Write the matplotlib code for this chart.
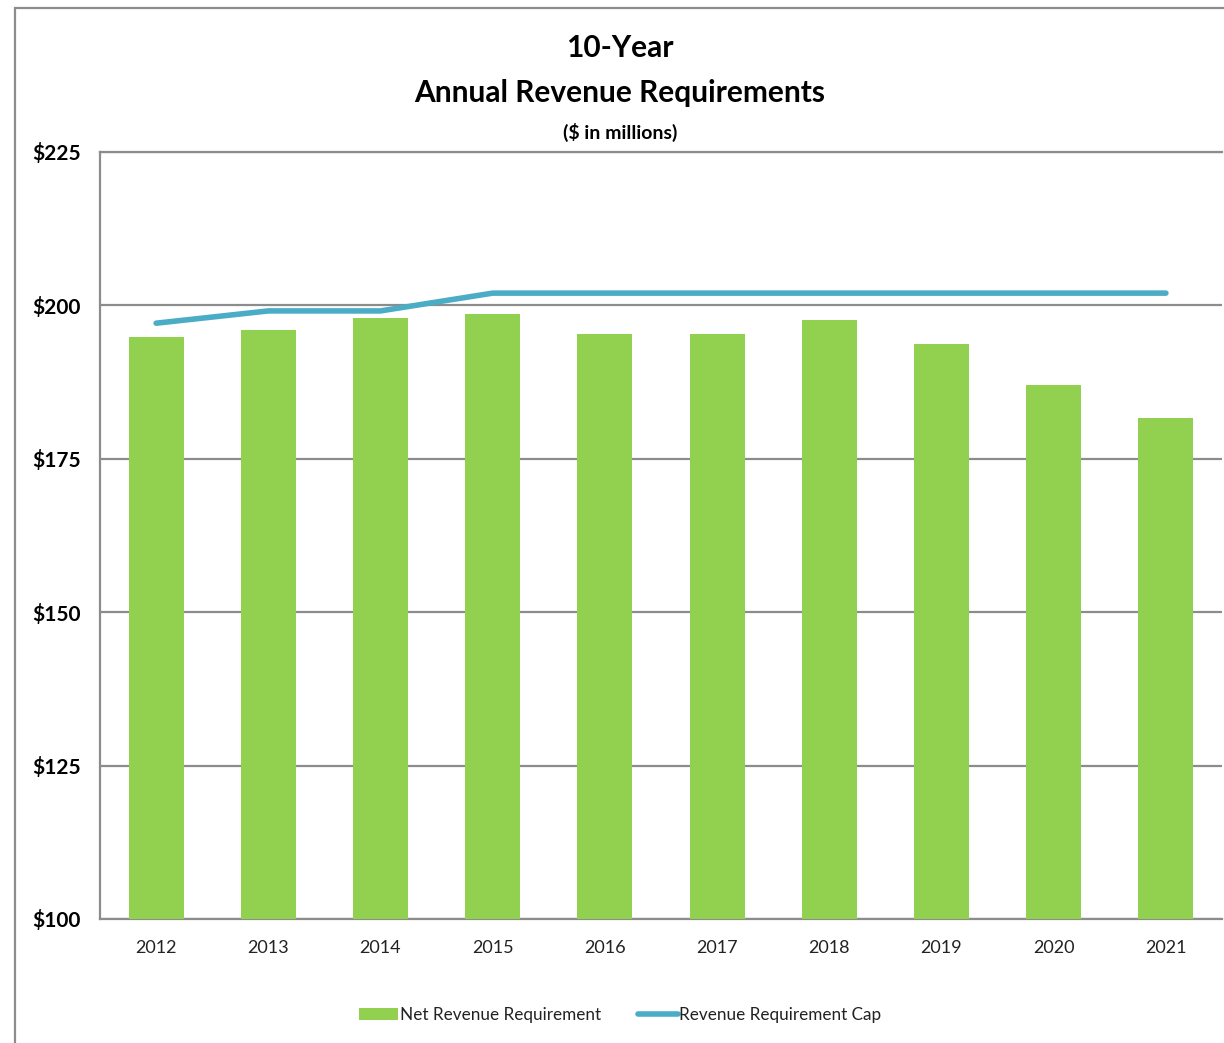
import matplotlib
matplotlib.use('Agg')
import matplotlib.pyplot as plt
from matplotlib.patches import Rectangle

plt.rcParams['font.family'] = ['Lato', 'DejaVu Sans']

### data ###
years = ['2012', '2013', '2014', '2015', '2016', '2017', '2018', '2019', '2020', '2021']
net_revenue = [194.9, 196.0, 197.9, 198.6, 195.3, 195.3, 197.6, 193.7, 187.0, 181.6]
revenue_cap = [197.1, 199.1, 199.1, 202.0, 202.0, 202.0, 202.0, 202.0, 202.0, 202.0]
y_ticks = [100, 125, 150, 175, 200, 225]

bar_color = '#92D050'
line_color = '#4BACC6'
grid_color = '#8c8c8c'

fig = plt.figure(figsize=(12.24, 10.43), dpi=100)
W, H = 1224, 1043

# outer chart frame (right and bottom edges run off the picture)
fig.patches.append(Rectangle((15 / W, -0.01), 1.2, 1 - 8 / H + 0.01, transform=fig.transFigure,
                             fill=False, edgecolor='#8c8c8c', linewidth=1.6))

ax = fig.add_axes([100 / W, 1 - 919 / H, 1122 / W, 767 / H])
x = list(range(len(years)))
bars = ax.bar(x, net_revenue, width=0.49, color=bar_color, label='Net Revenue Requirement', zorder=3)
line, = ax.plot(x, revenue_cap, color=line_color, linewidth=4, solid_capstyle='round',
                label='Revenue Requirement Cap', zorder=4)

ax.set_xlim(-0.5, len(years) - 0.5)
ax.set_ylim(100, 225)
ax.set_yticks(y_ticks)
ax.set_yticklabels(['$%d' % v for v in y_ticks], fontsize=15, fontweight='bold')
ax.set_xticks(x)
ax.set_xticklabels(years, fontsize=13, color='#222222')
ax.tick_params(axis='both', length=0)
ax.tick_params(axis='y', pad=14)
ax.tick_params(axis='x', pad=15)
ax.yaxis.grid(True, color=grid_color, linewidth=1.6, zorder=0)
ax.set_axisbelow(True)
for side in ['left', 'bottom', 'top']:
    ax.spines[side].set_color(grid_color)
    ax.spines[side].set_linewidth(1.6)
ax.spines['right'].set_visible(False)

fig.text(620 / W, 1 - 48 / H, '10-Year', ha='center', va='center', fontsize=21.5, fontweight='bold')
fig.text(620 / W, 1 - 93 / H, 'Annual Revenue Requirements', ha='center', va='center',
         fontsize=21.5, fontweight='bold')
fig.text(620 / W, 1 - 132 / H, '($ in millions)', ha='center', va='center', fontsize=14, fontweight='bold')

leg = fig.legend([bars, line], ['Net Revenue Requirement', 'Revenue Requirement Cap'],
                 loc='center', bbox_to_anchor=(620 / W, 1 - 1015 / H), ncol=2, frameon=False,
                 fontsize=12.3, handlelength=2.3, handletextpad=0.1, columnspacing=2.2)
for t in leg.get_texts():
    t.set_color('#222222')

fig.savefig('out.png', dpi=100)
